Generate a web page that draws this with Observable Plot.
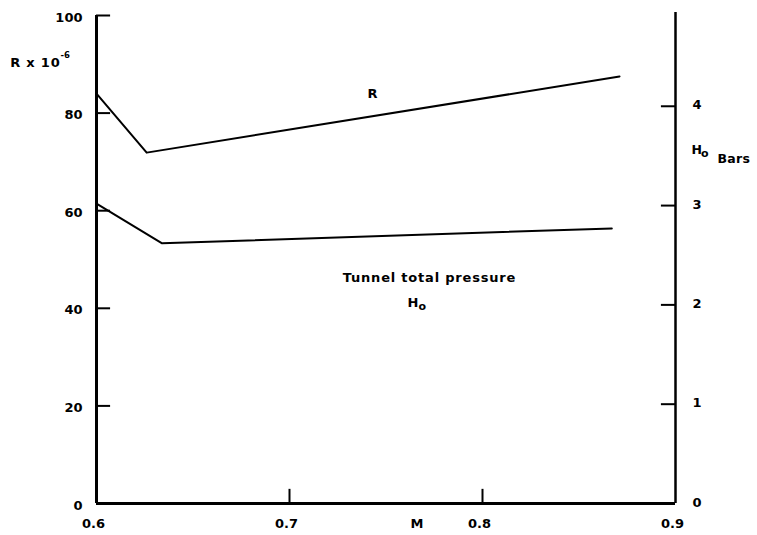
<!DOCTYPE html>
<html>
<head>
<meta charset="utf-8">
<script src="https://cdn.jsdelivr.net/npm/d3@7"></script>
<script src="https://cdn.jsdelivr.net/npm/@observablehq/plot@0.6"></script>
<style>
  html, body { margin: 0; padding: 0; background: #fff; }
  svg { display: block; }
</style>
</head>
<body>
<div id="chart"></div>
<script>
// Mach number and R (x 10^-6) curve
const rMach = [0.600, 0.626, 0.871];
const rValues = [84.0, 71.9, 87.5];
// Mach number and tunnel total pressure H0 (bars)
const hMach = [0.600, 0.634, 0.867];
const hValues = [3.02, 2.62, 2.77];

const xTicks = [0.6, 0.7, 0.8, 0.9];
const xTickLabels = ["0.6", "0.7", "0.8", "0.9"];
const leftTicks = [0, 20, 40, 60, 80, 100];
const rightTicks = [0, 1, 2, 3, 4];
const barsToR = 20.35; // 1 bar on the right axis, in units of the left axis

const rData = rMach.map((m, i) => ({m, v: rValues[i]}));
const hData = hMach.map((m, i) => ({m, v: hValues[i] * barsToR}));

const FONT = "DejaVu Sans, sans-serif";
const tickLenX = 0.0073;   // inward tick length in M units
const tickLenY = 2.9;      // inward tick length in R units

const chart = Plot.plot({
  width: 757,
  height: 535,
  marginLeft: 96,
  marginRight: 82,
  marginTop: 15,
  marginBottom: 32,
  style: {fontFamily: FONT, fontSize: "13px", fontWeight: "bold", color: "#000", background: "#fff"},
  x: {domain: [0.6, 0.9], axis: null},
  y: {domain: [0, 100], axis: null},
  marks: [
    // frame lines
    Plot.ruleX([0.6], {y1: 0, y2: 100, strokeWidth: 3, stroke: "#000"}),
    Plot.ruleX([0.9], {y1: 0, y2: 100.6, strokeWidth: 2.5, stroke: "#000"}),
    Plot.ruleY([0], {x1: 0.6, x2: 0.9, strokeWidth: 3, stroke: "#000"}),
    // inward ticks, left axis
    Plot.ruleY(leftTicks.filter(d => d > 0), {x1: 0.6, x2: 0.6 + tickLenX, strokeWidth: 2, stroke: "#000"}),
    // inward ticks, right axis
    Plot.ruleY(rightTicks.filter(d => d > 0).map(d => d * barsToR), {x1: 0.9 - tickLenX, x2: 0.9, strokeWidth: 2, stroke: "#000"}),
    // inward ticks, bottom axis
    Plot.ruleX(xTicks.slice(1, 3), {y1: 0, y2: tickLenY, strokeWidth: 2, stroke: "#000"}),
    // tick labels
    Plot.text(leftTicks, {x: 0.6, y: d => d, text: d => String(d), textAnchor: "end", dx: -14, dy: 2, fontSize: 13}),
    Plot.text(rightTicks, {x: 0.9, y: d => d * barsToR, text: d => String(d), textAnchor: "start", dx: 17, dy: -1, fontSize: 13}),
    Plot.text(xTicks, {x: d => d, y: 0, text: (d, i) => xTickLabels[i], dy: 20, dx: -3, fontSize: 13}),
    // data lines
    Plot.line(rData, {x: "m", y: "v", stroke: "#000", strokeWidth: 2}),
    Plot.line(hData, {x: "m", y: "v", stroke: "#000", strokeWidth: 2}),
    // axis titles
    Plot.text(["R x 10"], {x: 0.6, y: 90.4, text: d => d, textAnchor: "end", dx: -36, fontSize: 13}),
    Plot.text(["-6"], {x: 0.6, y: 90.4, text: d => d, textAnchor: "start", dx: -36, dy: -7, fontSize: 8.5}),
    Plot.text(["M"], {x: 0.766, y: 0, text: d => d, dy: 20, fontSize: 13}),
    Plot.text(["H"], {x: 0.9, y: 72.4, text: d => d, textAnchor: "start", dx: 16, fontSize: 12.5}),
    Plot.text(["o"], {x: 0.9, y: 72.4, text: d => d, textAnchor: "start", dx: 25.5, dy: 3, fontSize: 11}),
    Plot.text(["Bars"], {x: 0.9, y: 72.4, text: d => d, textAnchor: "start", dx: 42, dy: 9, fontSize: 12.5}),
    // curve annotations
    Plot.text(["R"], {x: 0.743, y: 84.0, text: d => d, fontSize: 13}),
    Plot.text(["Tunnel total pressure"], {x: 0.7725, y: 46.3, text: d => d, fontSize: 13}),
    Plot.text(["H"], {x: 0.764, y: 41.1, text: d => d, fontSize: 13}),
    Plot.text(["o"], {x: 0.764, y: 41.1, text: d => d, textAnchor: "start", dx: 5.5, dy: 4, fontSize: 11})
  ]
});

// letter spacing of the typewritten labels
const spacing = {"Tunnel total pressure": "0.8px", "R x 10": "0.8px", "Bars": "0.3px"};
chart.querySelectorAll("text").forEach(t => {
  const s = spacing[t.textContent];
  if (s) t.setAttribute("letter-spacing", s);
});

document.getElementById("chart").appendChild(chart);
</script>
</body>
</html>
